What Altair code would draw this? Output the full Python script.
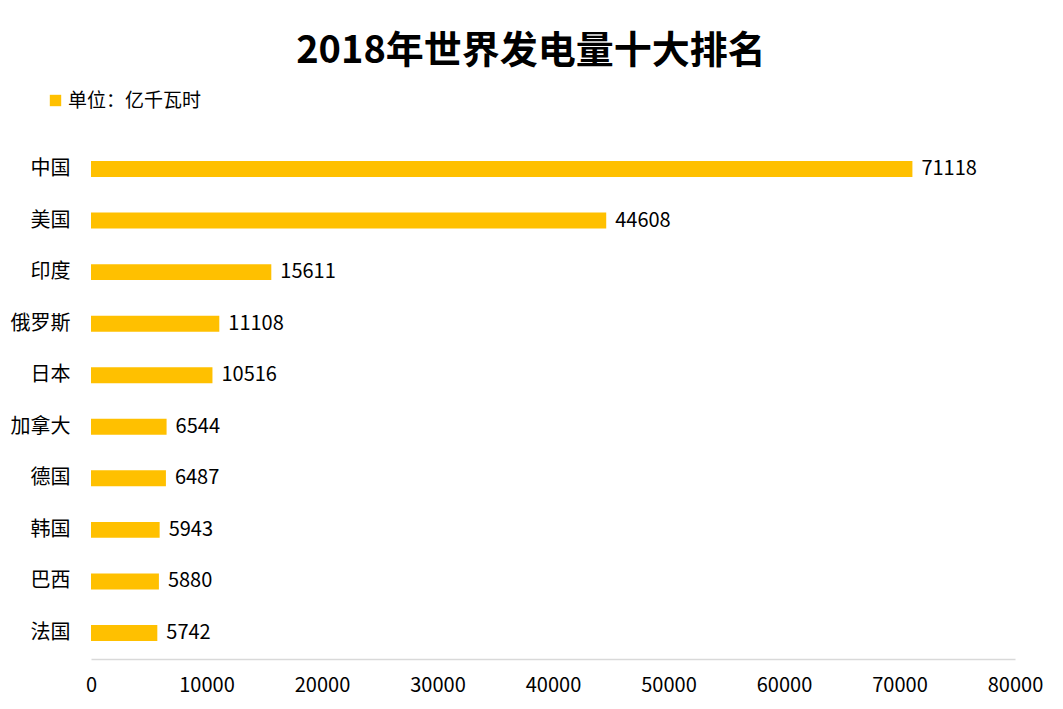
import pandas as pd
import altair as alt

# Data
countries = ["中国", "美国", "印度", "俄罗斯", "日本", "加拿大", "德国", "韩国", "巴西", "法国"]
values = [71118, 44608, 15611, 11108, 10516, 6544, 6487, 5943, 5880, 5742]
x_ticks = [0, 10000, 20000, 30000, 40000, 50000, 60000, 70000, 80000]

df = pd.DataFrame({"country": countries, "value": values})
df["unit"] = "单位：亿千瓦时"

FONT = "Noto Sans CJK SC"
BAR = "#FFC000"

base = alt.Chart(df).encode(
    y=alt.Y(
        "country:N",
        sort=countries,
        title=None,
        scale=alt.Scale(paddingInner=0.69, paddingOuter=0.35),
        axis=alt.Axis(
            domain=False, ticks=False, labelFontSize=20, labelFont=FONT,
            labelColor="#000000", labelPadding=21,
        ),
    ),
    x=alt.X(
        "value:Q",
        title=None,
        scale=alt.Scale(domain=[0, 80000]),
        axis=alt.Axis(
            values=x_ticks, grid=False, ticks=False, domainColor="#d9d9d9",
            domainWidth=1.5, labelFontSize=20, labelFont=FONT,
            labelColor="#000000", labelPadding=16, format="d",
            labelFlush=False,
        ),
    ),
)

bars = base.mark_bar(color=BAR).encode(
    color=alt.Color(
        "unit:N",
        scale=alt.Scale(range=[BAR]),
        legend=alt.Legend(
            title=None, orient="none", legendX=-45, legendY=-52,
            symbolType="square", symbolSize=130, labelFontSize=19,
            labelFont=FONT, labelColor="#000000", symbolStrokeWidth=0,
            labelOffset=3,
        ),
    )
)

labels = base.mark_text(
    align="left", baseline="middle", dx=9, fontSize=20, font=FONT, color="#000000"
).encode(text=alt.Text("value:Q", format="d"))

chart = (
    (bars + labels)
    .properties(
        width=924,
        height=516,
        padding={"top": 25, "left": 2, "right": 5, "bottom": 5},
        title=alt.TitleParams(
            "2018年世界发电量十大排名", fontSize=38, font=FONT, fontWeight="bold",
            color="#000000", dx=-22, offset=20,
        ),
    )
    .configure_view(stroke=None)
)

chart.save("out.html", embed_options={"renderer": "svg", "actions": False})
